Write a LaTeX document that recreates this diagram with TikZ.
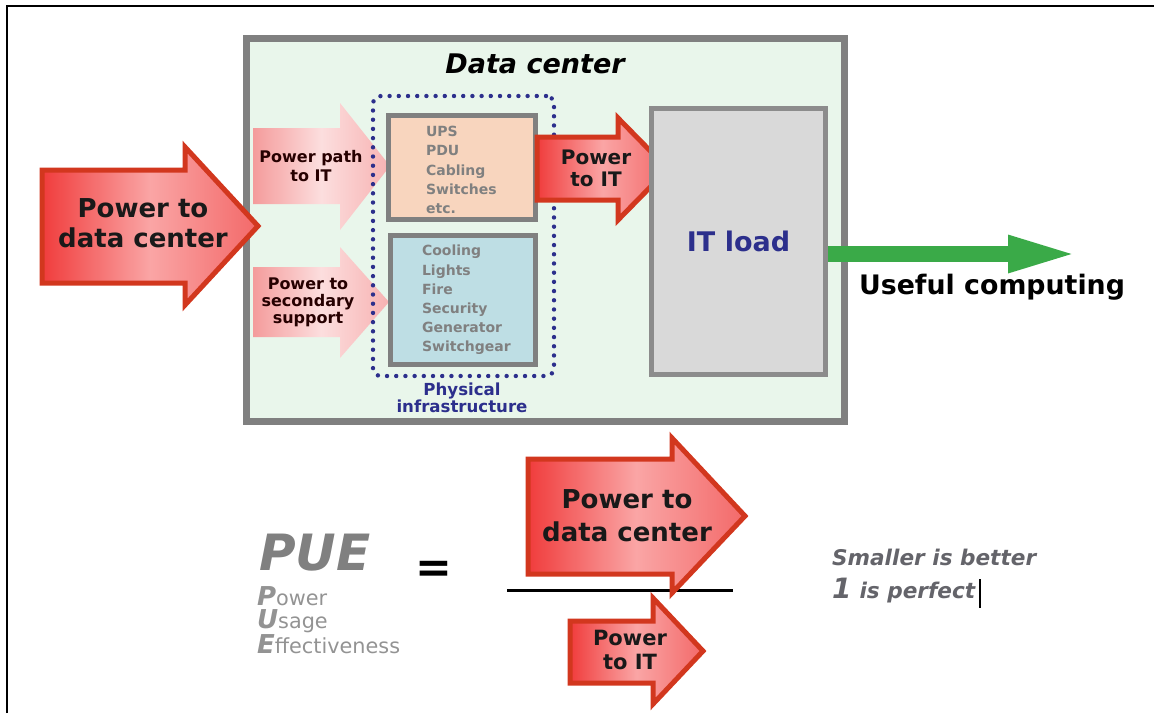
\documentclass[tikz,border=0pt]{standalone}
\usepackage{fontspec}
\setmainfont{DejaVu Sans}
\usetikzlibrary{arrows.meta}

\definecolor{dcfill}{RGB}{233,246,235}
\definecolor{dcgray}{RGB}{128,128,128}
\definecolor{upsfill}{RGB}{248,213,190}
\definecolor{coolfill}{RGB}{190,222,228}
\definecolor{itfill}{RGB}{217,217,217}
\definecolor{itedge}{RGB}{140,140,140}
\definecolor{infblue}{RGB}{44,47,140}
\definecolor{redge}{RGB}{210,55,30}
\definecolor{rd1}{RGB}{240,60,60}
\definecolor{rd2}{RGB}{250,165,165}
\definecolor{rd3}{RGB}{243,105,105}
\definecolor{pk1}{RGB}{244,155,155}
\definecolor{pk2}{RGB}{252,222,222}
\definecolor{pk3}{RGB}{247,178,178}
\definecolor{flowgreen}{RGB}{58,170,72}
\definecolor{puegray}{RGB}{128,128,128}
\definecolor{notegray}{RGB}{100,100,106}

\newcommand{\pueinit}[1]{{\bfseries\itshape\fontsize{13}{12}\selectfont #1}}

\tikzset{
  redarrow/.style={draw=redge, line width=2.5pt, left color=rd1, right color=rd3, middle color=rd2},
  pinkarrow/.style={left color=pk1, right color=pk3, middle color=pk2},
  graybox/.style={draw=dcgray, line width=2.5pt, inner sep=0pt},
  bigtext/.style={font=\bfseries\fontsize{13}{15}\selectfont, align=center, text=black!90},
  pinktext/.style={font=\bfseries\fontsize{8}{9.5}\selectfont, align=center, text=black!85!red},
  listtext/.style={anchor=west, font=\bfseries\fontsize{7}{9.6}\selectfont, align=left, text=dcgray},
  infdots/.style={draw=infblue, line width=2.2pt, dash pattern=on 0pt off 4.6pt, line cap=round,
    rounded corners=4pt, inner sep=0pt},
}

\begin{document}
\begin{tikzpicture}[x=0.5pt, y=-0.5pt]
\useasboundingbox (0,0) rectangle (1154,713);
\draw[line width=1.25pt] (7,713) -- (7,6) -- (1154,6);

\node[draw=dcgray, fill=dcfill, line width=3.5pt, minimum width=299pt, minimum height=191.5pt] (dc) at (545.5,230) {};
\node[font=\bfseries\itshape\fontsize{13.5}{15}\selectfont] (dctitle) at (535,64) {Data center};

\path[pinkarrow] (253,128) -- (340,128) -- (340,103) -- (390,166) -- (340,230) -- (340,204) -- (253,204) -- cycle;
\path[pinkarrow] (253,267) -- (340,267) -- (340,247) -- (389,302) -- (340,358) -- (340,337) -- (253,337) -- cycle;
\node[pinktext] (ppath) at (311,166) {Power path\\to IT};
\node[pinktext, font=\bfseries\fontsize{8}{8.5}\selectfont] (psec) at (308,302) {Power to\\secondary\\support};

\node[infdots, minimum width=90.5pt, minimum height=140pt] (infra) at (463.5,236) {};
\node[graybox, fill=upsfill, minimum width=73.5pt, minimum height=52pt] (ups) at (462,167.5) {};
\node[graybox, fill=coolfill, minimum width=72.5pt, minimum height=64.5pt] (cool) at (463,300) {};
\node[listtext] (upslist) at (419,170) {UPS\\PDU\\Cabling\\Switches\\etc.};
\node[listtext] (coollist) at (415,300) {Cooling\\Lights\\Fire\\Security\\Generator\\Switchgear};
\node[font=\bfseries\fontsize{8.3}{8.5}\selectfont, align=center, text=infblue] (physinf) at (462,398) {Physical\\infrastructure};

\path[redarrow] (537,137) -- (618,137) -- (618,118) -- (668,169) -- (618,220) -- (618,200) -- (537,200) -- cycle;
\node[bigtext, font=\bfseries\fontsize{10}{11}\selectfont] (itpower) at (596,168) {Power\\to IT};

\node[draw=itedge, fill=itfill, line width=2.5pt, minimum width=87pt, minimum height=133pt,
  font=\bfseries\fontsize{13.5}{15}\selectfont, text=infblue] (itload) at (738.5,241.5) {IT load};

\coordinate (uend) at (1080,254);
\draw[flowgreen, line width=8pt, -{Triangle[length=36pt, width=16.5pt]}] (itload.east |- uend) -- (uend);
\node[font=\bfseries\fontsize{13.4}{15}\selectfont] (useful) at (992,287) {Useful computing};

\path[redarrow] (42,170) -- (185,170) -- (185,147) -- (258,226) -- (185,305) -- (185,283) -- (42,283) -- cycle;
\node[bigtext] (dcpower) at (143,223) {Power to\\data center};

\node[font=\bfseries\itshape\fontsize{25}{25}\selectfont, text=puegray] (pue) at (315,553) {PUE};
\node[anchor=west, align=left, text=puegray!85, font=\fontsize{10.4}{11.5}\selectfont] (puelong) at (250,620)
  {\pueinit{P}ower\\\pueinit{U}sage\\\pueinit{E}ffectiveness};
\node[font=\bfseries\fontsize{22}{22}\selectfont] (eqsign) at (434,572) {=};

\draw[line width=1.5pt] (507,590) -- (733,590);
\path[redarrow] (528,459) -- (672,459) -- (672,438) -- (745,516) -- (672,593) -- (672,574) -- (528,574) -- cycle;
\node[bigtext, font=\bfseries\fontsize{13}{16.5}\selectfont] (numer) at (627,516) {Power to\\data center};
\path[redarrow] (570,621) -- (653,621) -- (653,598) -- (703,651) -- (653,704) -- (653,683) -- (570,683) -- cycle;
\node[bigtext, font=\bfseries\fontsize{10.5}{12}\selectfont] (denom) at (630,650) {Power\\to IT};

\node[anchor=west, font=\bfseries\itshape\fontsize{10.8}{12}\selectfont, text=notegray] (smaller) at (825,557) {Smaller is better};
\node[anchor=west, font=\bfseries\itshape\fontsize{10.8}{12}\selectfont, text=notegray] (perfect) at (825,591)
  {{\fontsize{14}{14}\selectfont 1}\hspace{4pt}is perfect};
\draw[line width=0.6pt] (980,579) -- (980,608);
\end{tikzpicture}
\end{document}
